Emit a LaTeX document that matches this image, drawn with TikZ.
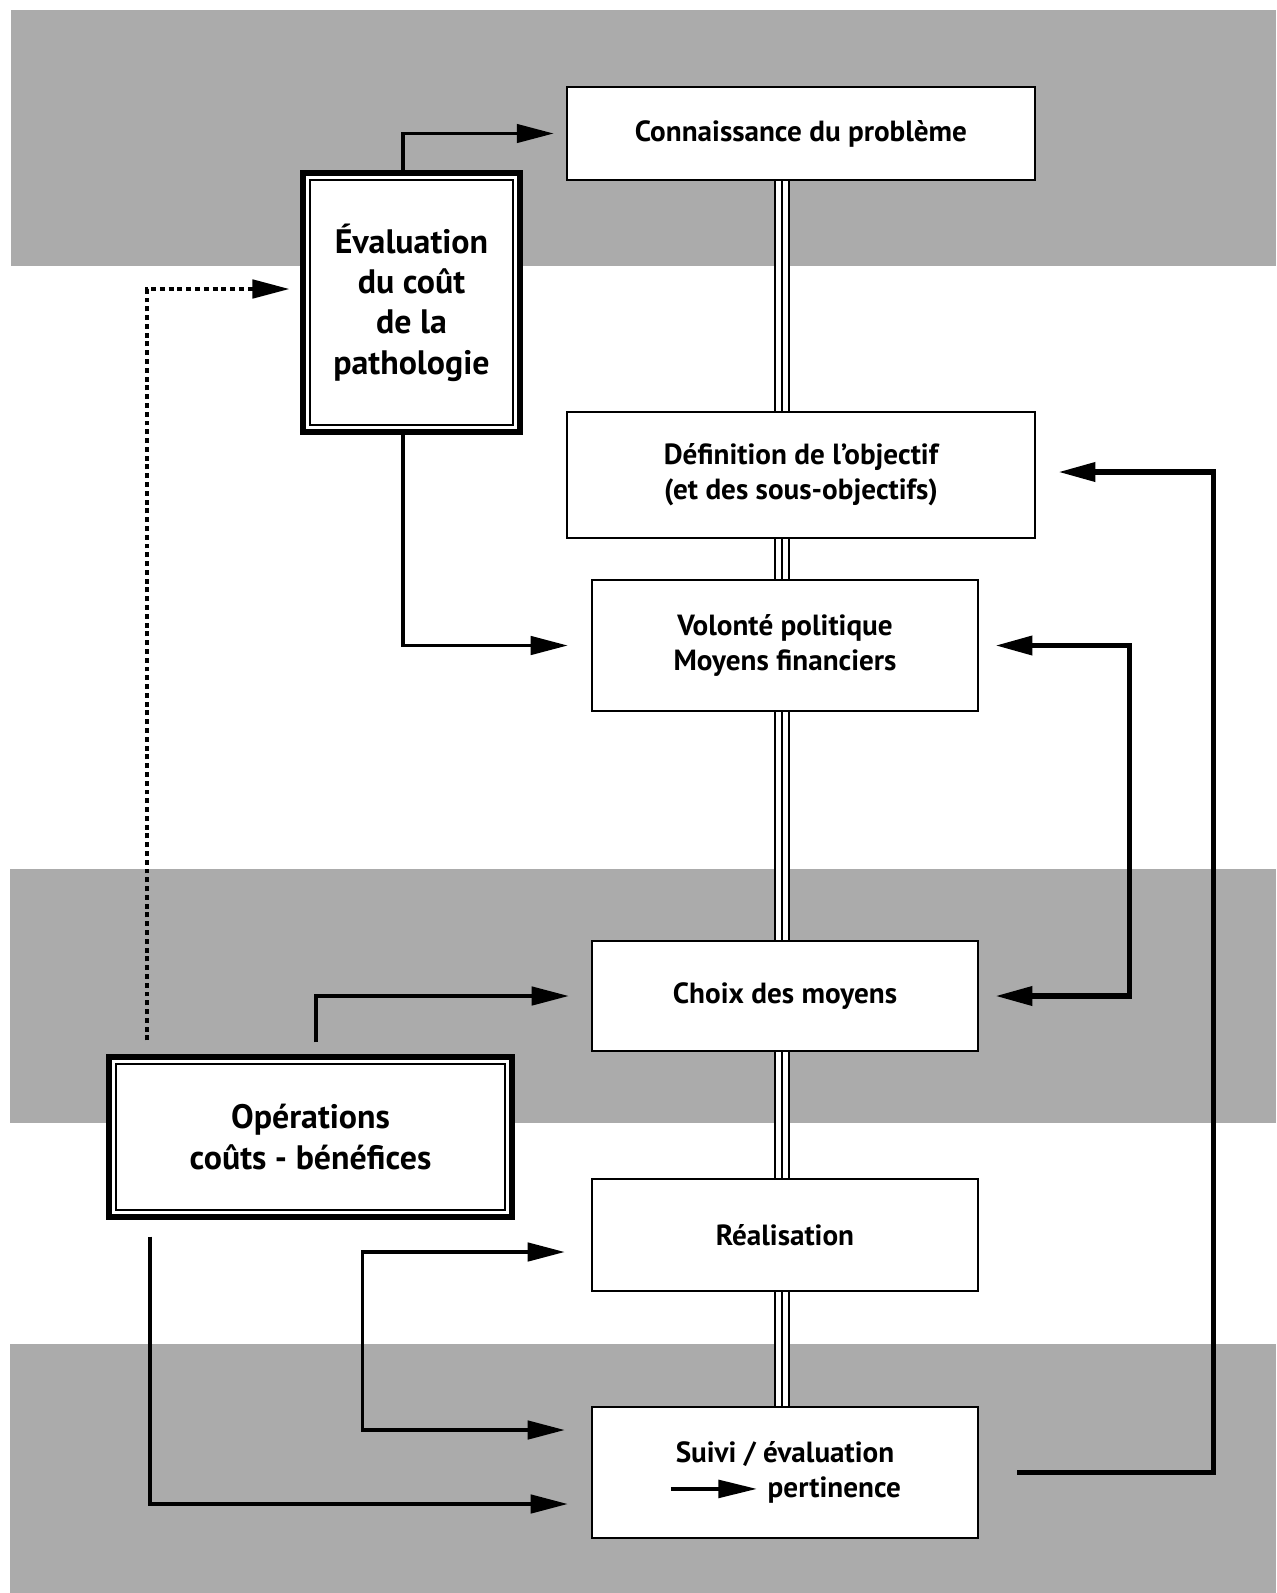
\documentclass[tikz,border=0pt]{standalone}
\usepackage{fontspec}
\setmainfont{PT Sans}
\usetikzlibrary{arrows.meta,backgrounds}

\begin{document}
\begin{tikzpicture}[x=0.02cm,y=-0.02cm,
			>={Triangle[length=21pt,width=10.5pt]},
			band/.style={fill=black!33},
			etape/.style={draw,line width=1.6pt,fill=white,align=center,inner sep=0pt,font=\bfseries\fontsize{16.6}{20}\selectfont},
			cadre/.style={draw,line width=3pt,fill=white,align=center,inner sep=0pt,font=\bfseries\fontsize{19.3}{23}\selectfont,
				path picture={\draw[line width=1.3pt] ([shift={(4pt,-4pt)}]path picture bounding box.north west) rectangle ([shift={(-4pt,4pt)}]path picture bounding box.south east);}},
			fleche/.style={->,line width=1.8pt},
			grosse/.style={line width=3pt},
			pointille/.style={->,line width=2pt,dash pattern=on 2.8pt off 2.2pt},
			rail/.style={line width=9.6pt,postaction={draw=white,line width=7pt},postaction={draw=black,line width=1.1pt}}]
			\useasboundingbox (0,0) rectangle (1276,1593);
			\coordinate (spine) at (782,0);
			\node[etape,minimum width=9.36cm,minimum height=1.86cm] (conn) at (801,133.5) {Connaissance du problème};
			\node[etape,minimum width=9.36cm,minimum height=2.52cm] (defn) at (801,475) {Définition de l’objectif\\(et des sous-objectifs)};
			\node[etape,minimum width=7.72cm,minimum height=2.62cm] (volo) at (785,645.5) {Volonté politique\\Moyens financiers};
			\node[etape,minimum width=7.72cm,minimum height=2.2cm] (choix) at (785,996) {Choix des moyens};
			\node[etape,minimum width=7.72cm,minimum height=2.24cm] (real) at (785,1235) {Réalisation};
			\node[etape,minimum width=7.72cm,minimum height=2.62cm] (suivi) at (785,1472.5) {Suivi / évaluation\\\tikz[baseline=-0.6ex]\draw[line width=2.2pt,-{Triangle[length=22pt,width=10pt]}] (0pt,0pt) -- (49pt,0pt);\hspace{5pt}pertinence};
			\node[cadre,minimum width=4.34cm,minimum height=5.18cm] (eval) at (411.5,302.5) {Évaluation\\du coût\\de la\\pathologie};
			\node[cadre,minimum width=8.06cm,minimum height=3.2cm] (oper) at (310.5,1137) {Opérations\\coûts - bénéfices};
			\begin{scope}[on background layer]
				\fill[band] (11,10) rectangle (1276,266);
				\fill[band] (10,869) rectangle (1276,1123);
				\fill[band] (10,1344) rectangle (1276,1593);
				\draw[rail] (conn.south -| spine) -- (defn.north -| spine);
				\draw[rail] (defn.south -| spine) -- (volo.north -| spine);
				\draw[rail] (volo.south -| spine) -- (choix.north -| spine);
				\draw[rail] (choix.south -| spine) -- (real.north -| spine);
				\draw[rail] (real.south -| spine) -- (suivi.north -| spine);
			\end{scope}
			\draw[fleche] ([xshift=-0.17cm]eval.north) |- ([xshift=-0.24cm]conn.west);
			\draw[fleche] ([xshift=-0.17cm]eval.south) |- ([xshift=-0.46cm]volo.west);
			\draw[pointille] ([xshift=-3.27cm,yshift=0.28cm]oper.north) |- ([xshift=-0.22cm,yshift=0.27cm]eval.west);
			\draw[fleche] ([xshift=0.11cm,yshift=0.24cm]oper.north) |- ([xshift=-0.44cm]choix.west);
			\draw[fleche] ([xshift=-3.21cm,yshift=-0.34cm]oper.south) |- ([xshift=-0.46cm,yshift=-0.63cm]suivi.west);
			\draw[fleche,<->] ([xshift=-0.52cm,yshift=-0.34cm]real.west) -- ++(-202,0) |- ([xshift=-0.52cm,yshift=0.85cm]suivi.west);
			\draw[grosse,->] ([xshift=0.76cm]suivi.east) -- ++(196,0) |- ([xshift=0.44cm,yshift=0.06cm]defn.east);
			\draw[grosse,<->] ([xshift=0.32cm]volo.east) -- ++(134,0) |- ([xshift=0.32cm]choix.east);
		\end{tikzpicture}
\end{document}
